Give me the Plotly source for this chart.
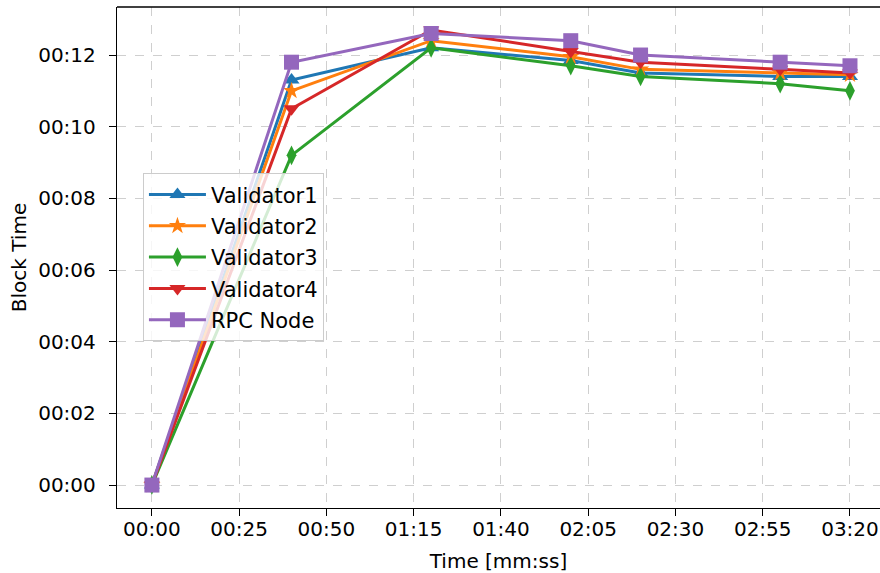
import plotly.graph_objects as go

# ---- data (seconds) ----
time_s = [0, 40, 80, 120, 140, 180, 200]
validator1 = [0, 11.3, 12.2, 11.85, 11.5, 11.4, 11.4]
validator2 = [0, 11.0, 12.4, 11.95, 11.6, 11.5, 11.45]
validator3 = [0, 9.2, 12.2, 11.7, 11.4, 11.2, 11.0]
validator4 = [0, 10.5, 12.7, 12.1, 11.8, 11.6, 11.5]
rpc_node = [0, 11.8, 12.6, 12.4, 12.0, 11.8, 11.7]

series_names = ["Validator1", "Validator2", "Validator3", "Validator4", "RPC Node"]

x_tick_vals = [0, 25, 50, 75, 100, 125, 150, 175, 200]
x_tick_labels = ["00:00", "00:25", "00:50", "01:15", "01:40", "02:05", "02:30", "02:55", "03:20"]
y_tick_vals = [0, 2, 4, 6, 8, 10, 12]
y_tick_labels = ["00:00", "00:02", "00:04", "00:06", "00:08", "00:10", "00:12"]

# ---- styles ----
colors = ["#1f77b4", "#ff7f0e", "#2ca02c", "#d62728", "#9467bd"]
symbols = ["triangle-up", "star", "diamond-tall", "triangle-down", "square"]
sizes = [14, 13, 14, 14, 15]

FONT = "DejaVu Sans"

fig = go.Figure()
for i, (name, ys, c, s, sz) in enumerate(zip(series_names,
                              [validator1, validator2, validator3, validator4, rpc_node],
                              colors, symbols, sizes)):
    fig.add_trace(go.Scatter(
        x=time_s, y=ys, name=name, mode="lines+markers", legendgroup=f"g{i}",
        line=dict(color=c, width=3),
        marker=dict(symbol=s, size=sz, color=c, line=dict(width=0)),
    ))

axis_common = dict(
    showgrid=True, gridcolor="#cfcfcf", griddash="dash", gridwidth=1,
    zeroline=False, showline=True, linecolor="black", linewidth=1.4,
    ticks="outside", ticklen=7, tickwidth=1.4, tickcolor="black",
    tickfont=dict(family=FONT, size=20, color="black"),
    mirror=False, automargin=False,
)

fig.update_layout(
    width=880, height=573,
    margin=dict(l=117, r=0, t=7, b=65),
    paper_bgcolor="white", plot_bgcolor="white",
    font=dict(family=FONT, size=20, color="black"),
    xaxis=dict(range=[-10, 208.6], tickvals=x_tick_vals, ticktext=x_tick_labels,
               ticklabelstandoff=-4,
               title=dict(text="Time [mm:ss]", font=dict(family=FONT, size=20), standoff=13),
               **axis_common),
    yaxis=dict(range=[-0.64, 13.34], tickvals=y_tick_vals, ticktext=y_tick_labels,
               ticklabelstandoff=9,
               title=dict(text="Block Time", font=dict(family=FONT, size=20), standoff=6),
               **axis_common),
    legend=dict(x=0.034, y=0.668, xanchor="left", yanchor="top",
                bgcolor="rgba(255,255,255,0.8)", bordercolor="#cccccc", borderwidth=1,
                font=dict(family=FONT, size=21, color="black"), itemwidth=57,
                tracegroupgap=1),
    showlegend=True,
    shapes=[dict(type="line", xref="paper", yref="paper", x0=0, x1=1, y0=1, y1=1,
                 line=dict(color="black", width=1.4))],
)

fig.write_html("out.html", config={"displayModeBar": False},
               post_script="document.body.style.margin='0px';")
